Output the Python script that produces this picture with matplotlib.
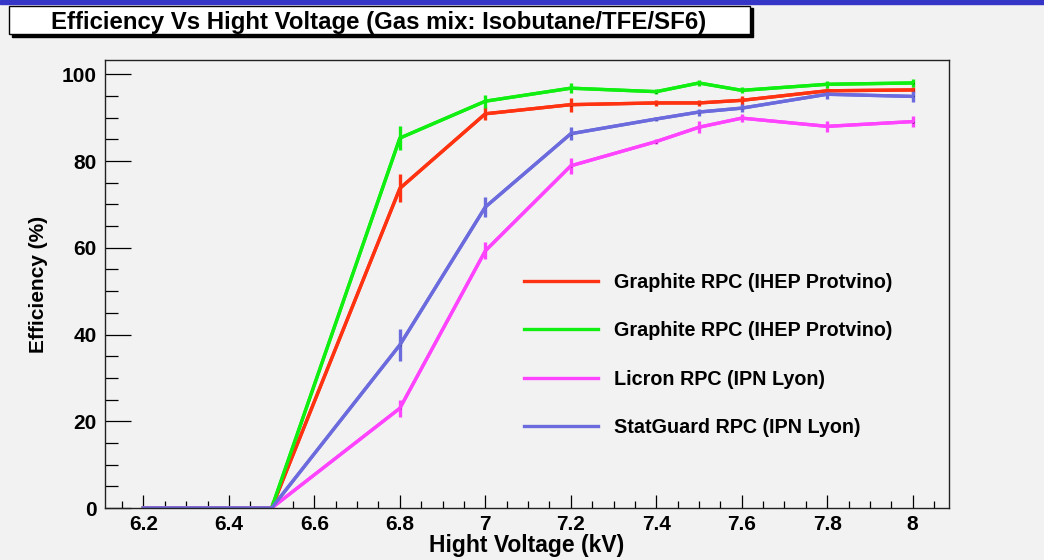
import matplotlib
matplotlib.use("Agg")
import matplotlib.pyplot as plt
from matplotlib.patches import Rectangle
from matplotlib.ticker import MultipleLocator

# data
hv = [6.2, 6.5, 6.8, 7.0, 7.2, 7.4, 7.5, 7.6, 7.8, 8.0]

eff_graphite1 = [0, 0, 73.7, 90.9, 93.0, 93.4, 93.4, 94.0, 96.2, 96.4]
err_graphite1 = [0, 0, 3.2, 1.5, 1.6, 0.6, 0.6, 1.0, 0.7, 0.6]

eff_graphite2 = [0, 0, 85.3, 93.8, 96.8, 96.0, 98.0, 96.3, 97.7, 98.0]
err_graphite2 = [0, 0, 2.7, 1.5, 1.1, 0.6, 0.8, 0.7, 0.8, 0.9]

eff_licron = [0, 0, 23.0, 59.3, 78.9, 84.5, 87.8, 89.9, 88.0, 89.1]
err_licron = [0, 0, 2.0, 2.0, 1.8, 0.6, 1.4, 1.0, 1.2, 1.2]

eff_statguard = [0, 0, 37.6, 69.4, 86.3, 89.7, 91.3, 92.2, 95.4, 94.9]
err_statguard = [0, 0, 3.6, 2.3, 1.5, 0.5, 0.8, 1.0, 1.2, 1.2]

labels = ["Graphite RPC (IHEP Protvino)", "Graphite RPC (IHEP Protvino)",
          "Licron RPC (IPN Lyon)", "StatGuard RPC (IPN Lyon)"]
colors = ["#ff3311", "#11ee11", "#ff44ff", "#6b6bdd"]

title = "Efficiency Vs Hight Voltage (Gas mix: Isobutane/TFE/SF6)"

bg = "#f2f2f2"
fig = plt.figure(figsize=(10.44, 5.6), dpi=100, facecolor=bg)
ax = fig.add_axes([105/1044, 1-508/560, (949-105)/1044, (508-60)/560])
ax.set_facecolor(bg)

series = [(eff_graphite1, err_graphite1), (eff_graphite2, err_graphite2),
          (eff_licron, err_licron), (eff_statguard, err_statguard)]
handles = []
for (y, e), c, lab in zip(series, colors, labels):
    ax.errorbar(hv, y, yerr=e, color=c, lw=2.4, elinewidth=2.4, capsize=0)
    h, = ax.plot(hv, y, color=c, lw=2.4, label=lab)
    ax.plot(hv, y, "k.", ms=1.2)
    handles.append(h)

ax.set_xlim(6.11, 8.085)
ax.set_ylim(0, 103.3)
ax.xaxis.set_minor_locator(MultipleLocator(0.05))
ax.yaxis.set_major_locator(MultipleLocator(20))
ax.yaxis.set_minor_locator(MultipleLocator(5))
ax.set_xticks([6.2, 6.4, 6.6, 6.8, 7.0, 7.2, 7.4, 7.6, 7.8, 8.0])
ax.set_xticklabels(["6.2", "6.4", "6.6", "6.8", "7", "7.2", "7.4", "7.6", "7.8", "8"])
ax.tick_params(axis="x", which="major", direction="in", length=9.4, width=0.9, pad=5)
ax.tick_params(axis="x", which="minor", direction="in", length=5, width=0.9)
ax.tick_params(axis="y", which="major", direction="in", length=18.7, width=0.9, pad=6)
ax.tick_params(axis="y", which="minor", direction="in", length=9.4, width=0.9)
for lbl in ax.get_xticklabels() + ax.get_yticklabels():
    lbl.set_fontweight("bold")
    lbl.set_fontsize(15)
    lbl.set_family("Liberation Sans")
for s in ax.spines.values():
    s.set_color("#222222")
    s.set_linewidth(1)

ax.set_xlabel("Hight Voltage (kV)", fontsize=16.5, fontweight="bold",
              family="Liberation Sans", labelpad=0)
ax.set_ylabel("Efficiency (%)", fontsize=15, fontweight="bold",
              family="Liberation Sans", labelpad=10)

leg = ax.legend(handles=handles, loc="upper left", bbox_to_anchor=(0.475, 0.565),
                frameon=False, handlelength=3.75, handletextpad=0.85,
                labelspacing=1.5, prop={"family": "Liberation Sans",
                                        "weight": "bold", "size": 14.2})

# ROOT style title box with shadow and blue bar on top
fig.patches.append(Rectangle((12/1044, 1-37/560), 741/1044, 29/560,
                             transform=fig.transFigure, color="black", zorder=1))
fig.patches.append(Rectangle((9/1044, 1-34/560), 741/1044, 28/560,
                             transform=fig.transFigure, facecolor="white",
                             edgecolor="black", lw=1, zorder=2))
fig.patches.append(Rectangle((0, 1-4/560), 1, 4/560, transform=fig.transFigure,
                             color="#3535c8", zorder=3))

t = fig.text(379/1044, 1-22.5/560, title, ha="center", va="center", fontsize=15,
             fontweight="bold", family="Liberation Sans", zorder=4)
# fit the title to the width it has in the reference (~658 px)
fig.canvas.draw()
w = t.get_window_extent().width
t.set_fontsize(15 * 658 / w)

fig.savefig("out.png", dpi=100, facecolor=bg)
